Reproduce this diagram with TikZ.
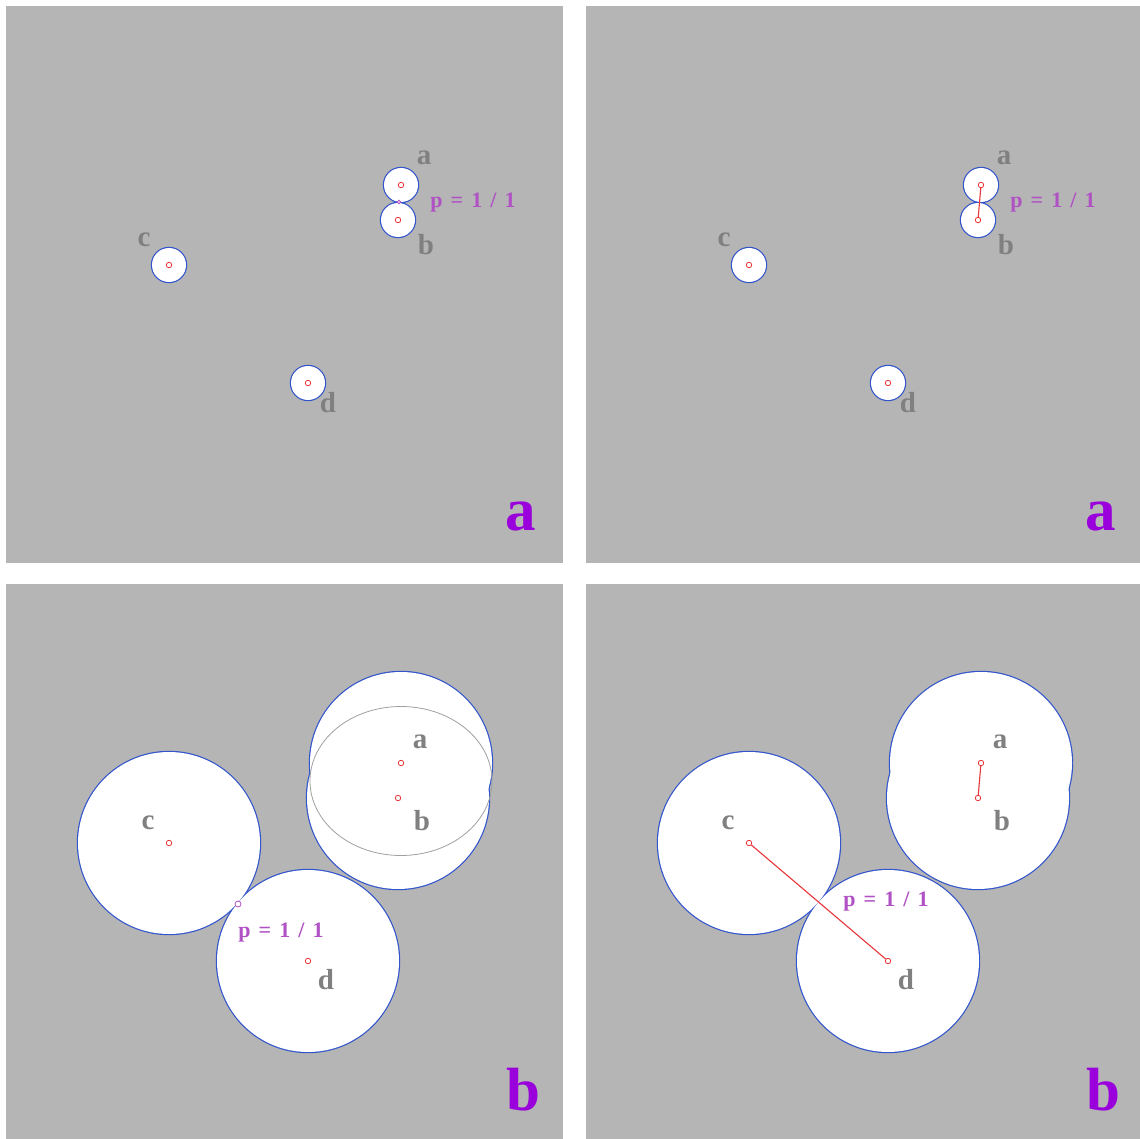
\documentclass[tikz,border=0pt]{standalone}
\usepackage{fontspec}
\setmainfont{Liberation Serif}
\usetikzlibrary{calc}
\definecolor{panelfill}{HTML}{B5B5B5}
\definecolor{diskstroke}{HTML}{3355CC}
\definecolor{centrered}{HTML}{E8353A}
\definecolor{labelgray}{HTML}{808080}
\definecolor{ratiopurple}{HTML}{B052C4}
\definecolor{panelpurple}{HTML}{9A00DC}
\definecolor{overlapgray}{HTML}{A0A0A0}
\tikzset{
  panel/.style={fill=panelfill},
  diskrim/.style={draw=diskstroke, line width=2.4pt},
  diskfill/.style={fill=white},
  centre/.style={
    circle, draw=centrered, fill=white, line width=0.8pt,
    minimum size=5.5pt, inner sep=0pt
  },
  ptlabel/.style={
    text=labelgray, inner sep=0pt,
    font=\fontsize{29}{29}\selectfont\bfseries
  },
  ratio/.style={
    text=ratiopurple, inner sep=0pt,
    font={\fontsize{22}{22}\selectfont\bfseries\spaceskip=0.37em}
  },
  panellabel/.style={
    text=panelpurple, inner sep=0pt, anchor=base,
    font=\fontsize{61}{61}\selectfont\bfseries
  },
  link/.style={draw=centrered, line width=1.1pt},
  contact/.style={
    circle, draw=ratiopurple, fill=white, line width=0.8pt,
    minimum size=#1, inner sep=0pt
  },
  overlap/.style={draw=overlapgray, line width=0.8pt}
}
% four disks around a, b, c, d; only the outer rim stays visible
\newcommand\diskset[2]{%
  \foreach \n/\x/\y in {a/395/179,b/392/214,c/163/259,d/302/377}
    \draw[diskrim] (\x,\y) circle[radius=#2pt];
  \foreach \n/\x/\y in {a/395/179,b/392/214,c/163/259,d/302/377}
    \fill[diskfill] (\x,\y) circle[radius=#2pt];
}
\newcommand\centres[1]{%
  \foreach \n/\x/\y in {a/395/179,b/392/214,c/163/259,d/302/377}
    \node[centre] (#1\n) at (\x,\y) {};
}
\begin{document}
\begin{tikzpicture}[x=1pt,y=-1pt]
  \fill[white] (0,0) rectangle (1140,1139);
  \useasboundingbox (0,0) rectangle (1140,1139);

  % top left: small disks, a and b touch
  \begin{scope}[shift={(6,6)}]
    \fill[panel] (0,0) rectangle (557,557);
    \diskset{TL}{17}
    \centres{TL}
    \node[contact=3.5pt] (TLt) at (393,196) {};
    \node[ptlabel] (TLla) at (418,152) {a};
    \node[ptlabel] (TLlb) at (420,239) {b};
    \node[ptlabel] (TLlc) at (138,234) {c};
    \node[ptlabel] (TLld) at (322,397) {d};
    \node[ratio] (TLp) at (467,197) {p = 1 / 1};
    \node[panellabel] (TLtag) at (515,524) {a};
  \end{scope}

  % top right: same, with the a--b link
  \begin{scope}[shift={(586,6)}]
    \fill[panel] (0,0) rectangle (557,557);
    \diskset{TR}{17}
    \centres{TR}
    \draw[link] (TRa) -- (TRb);
    \node[ptlabel] (TRla) at (418,152) {a};
    \node[ptlabel] (TRlb) at (420,239) {b};
    \node[ptlabel] (TRlc) at (138,234) {c};
    \node[ptlabel] (TRld) at (322,397) {d};
    \node[ratio] (TRp) at (467,197) {p = 1 / 1};
    \node[panellabel] (TRtag) at (515,524) {a};
  \end{scope}

  % bottom left: grown disks, c and d touch
  \begin{scope}[shift={(6,584)}]
    \fill[panel] (0,0) rectangle (557,557);
    \diskset{BL}{91}
    \draw[overlap] (395,197) ellipse[x radius=91pt, y radius=74.5pt];
    \centres{BL}
    \node[contact=6pt] (BLt) at (232,320) {};
    \node[ptlabel] (BLla) at (414,158) {a};
    \node[ptlabel] (BLlb) at (416,237) {b};
    \node[ptlabel] (BLlc) at (142,239) {c};
    \node[ptlabel] (BLld) at (320,396) {d};
    \node[ratio] (BLp) at (275,349) {p = 1 / 1};
    \node[panellabel] (BLtag) at (517,526) {b};
  \end{scope}

  % bottom right: links a--b and c--d
  \begin{scope}[shift={(586,584)}]
    \fill[panel] (0,0) rectangle (557,557);
    \diskset{BR}{91}
    \centres{BR}
    \draw[link] (BRa) -- (BRb);
    \draw[link] (BRc) -- (BRd);
    \node[ptlabel] (BRla) at (414,158) {a};
    \node[ptlabel] (BRlb) at (416,237) {b};
    \node[ptlabel] (BRlc) at (142,239) {c};
    \node[ptlabel] (BRld) at (320,396) {d};
    \node[ratio] (BRp) at (300,318) {p = 1 / 1};
    \node[panellabel] (BRtag) at (517,526) {b};
  \end{scope}
\end{tikzpicture}
\end{document}
